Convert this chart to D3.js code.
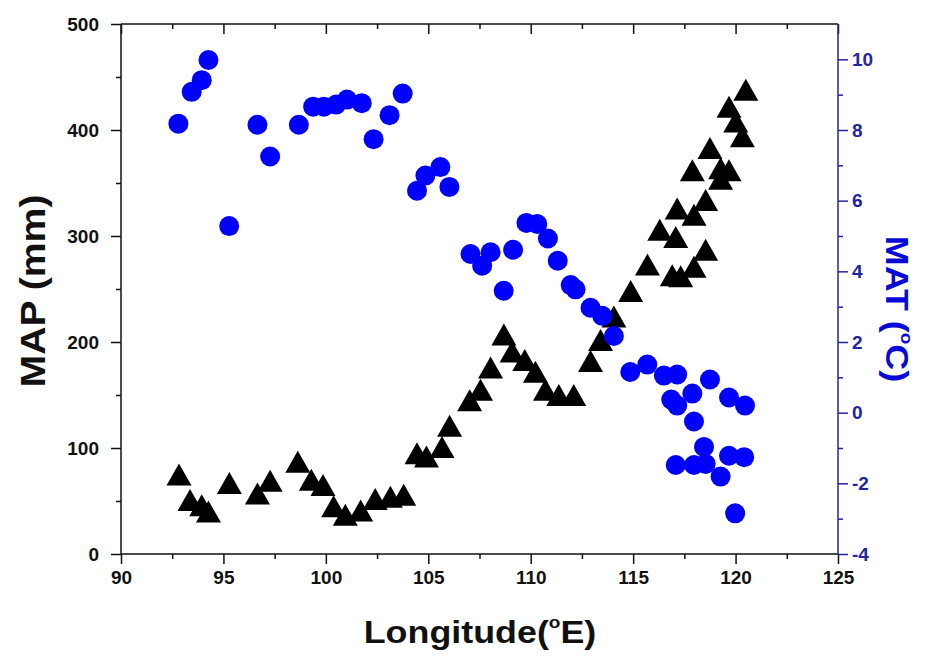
<!DOCTYPE html>
<html><head><meta charset="utf-8">
<script src="https://cdn.jsdelivr.net/npm/d3@7"></script>
<style>
body{margin:0;background:#fff;}
svg{display:block;}
text{font-family:"Liberation Sans",Arial,sans-serif;font-weight:bold;}
</style></head>
<body>
<svg id="chart" width="928" height="657"></svg>
<script>
// MAP (mm) vs longitude — black triangles
const mapLon = [92.83,93.37,93.94,94.27,95.29,96.66,97.28,98.63,99.29,99.86,100.38,100.95,101.7,102.41,103.15,103.8,104.45,104.91,105.67,106.04,107.02,107.55,108.04,108.69,109.09,109.71,110.23,110.72,111.37,112.1,112.92,113.41,114.06,114.88,115.7,116.3,117.08,116.91,117.32,117.15,117.97,117.97,117.89,118.54,118.54,118.75,119.27,119.27,119.68,119.68,120.01,120.33,120.5];
const mapVal = [75,51,46,40,67,57,69,87,70,65,45,37,41,52,54,56,95,92,101,121,145,155,176,207,191,183,172,155,150,150,182,202,224,248,273,306,299,263,262,326,320,271,362,334,287,383,364,354,362,422,408,394,438];
// MAT (°C) vs longitude — blue circles
const matLon = [92.8,93.45,93.94,94.27,95.28,96.66,97.28,98.68,99.38,99.9,100.5,101.03,101.75,102.33,103.11,103.75,104.45,104.86,105.59,106.03,107.06,107.63,108.04,108.68,109.14,109.79,110.32,110.84,111.32,111.95,112.19,112.92,113.49,114.06,114.86,115.69,116.5,117.15,116.86,117.15,117.89,117.97,118.75,119.68,120.46,118.46,117.08,117.97,118.54,119.27,119.68,120.42,119.98];
const matVal = [8.18,9.08,9.41,9.98,5.28,8.15,7.25,8.15,8.66,8.66,8.72,8.86,8.76,7.74,8.42,9.03,6.28,6.71,6.95,6.39,4.49,4.16,4.54,3.45,4.61,5.37,5.34,4.93,4.3,3.61,3.49,2.97,2.74,2.17,1.15,1.36,1.05,1.08,0.37,0.2,0.54,-0.25,0.94,0.43,0.2,-0.97,-1.48,-1.48,-1.45,-1.81,-1.22,-1.26,-2.85];
// tick labels
const xTicks = [90,95,100,105,110,115,120,125];
const yLeftTicks = [0,100,200,300,400,500];
const yRightTicks = [-4,-2,0,2,4,6,8,10];

const svg = d3.select("#chart");
const L=121, R=838, T=24, B=554;
const x = d3.scaleLinear().domain([90,125]).range([L,R]);
const yL = d3.scaleLinear().domain([0,500]).range([B,T]);
const yR = d3.scaleLinear().domain([-4,11]).range([B,T]);
const fmt = d => String(d);

const axisColor="#111", rightColor="#24249e";
function style(g,color,fs){
  g.select(".domain").remove();
  g.selectAll("line").attr("stroke",color).attr("stroke-width",1.5);
  g.selectAll("text").attr("fill",color).style("font-size",fs+"px");
}
// minor ticks
const xMinor = d3.range(92.5,125,5);
const yLMinor = d3.range(50,500,100);
const yRMinor = d3.range(-3,11,2);

svg.append("g").attr("transform",`translate(0,${B})`)
  .call(d3.axisBottom(x).tickValues(xMinor).tickSize(5).tickFormat(""))
  .call(g=>style(g,axisColor,18));
svg.append("g").attr("transform",`translate(0,${B})`)
  .call(d3.axisBottom(x).tickValues(xTicks).tickSize(10).tickPadding(7).tickFormat(fmt))
  .call(g=>style(g,axisColor,19));
svg.append("g").attr("transform",`translate(0,${T})`)
  .call(d3.axisBottom(x).tickValues(xMinor).tickSize(5).tickFormat(""))
  .call(g=>style(g,axisColor,18));
svg.append("g").attr("transform",`translate(0,${T})`)
  .call(d3.axisBottom(x).tickValues(xTicks).tickSize(10).tickFormat(""))
  .call(g=>style(g,axisColor,18));

svg.append("g").attr("transform",`translate(${L},0)`)
  .call(d3.axisLeft(yL).tickValues(yLMinor).tickSize(5).tickFormat(""))
  .call(g=>style(g,axisColor,18));
svg.append("g").attr("transform",`translate(${L},0)`)
  .call(d3.axisLeft(yL).tickValues(yLeftTicks).tickSize(10).tickPadding(12).tickFormat(fmt))
  .call(g=>style(g,axisColor,19));

svg.append("g").attr("transform",`translate(${R},0)`)
  .call(d3.axisRight(yR).tickValues(yRMinor).tickSize(5).tickFormat(""))
  .call(g=>style(g,rightColor,18));
svg.append("g").attr("transform",`translate(${R},0)`)
  .call(d3.axisRight(yR).tickValues(yRightTicks).tickSize(10).tickPadding(4).tickFormat(fmt))
  .call(g=>style(g,rightColor,19));

// frame lines
svg.append("line").attr("x1",L).attr("x2",R).attr("y1",B).attr("y2",B).attr("stroke",axisColor).attr("stroke-width",1.5);
svg.append("line").attr("x1",L).attr("x2",R).attr("y1",T).attr("y2",T).attr("stroke",axisColor).attr("stroke-width",1.5);
svg.append("line").attr("x1",L).attr("x2",L).attr("y1",T).attr("y2",B).attr("stroke",axisColor).attr("stroke-width",1.5);
svg.append("line").attr("x1",R).attr("x2",R).attr("y1",T).attr("y2",B).attr("stroke",rightColor).attr("stroke-width",1.5);

// marks
const mapData = mapLon.map((d,i)=>({x:d,y:mapVal[i]}));
const matData = matLon.map((d,i)=>({x:d,y:matVal[i]}));
svg.append("g").selectAll("path").data(mapData).join("path")
  .attr("d","M0,-11L12.5,11L-12.5,11Z")
  .attr("transform",d=>`translate(${x(d.x)},${yL(d.y)})`)
  .attr("fill","#000");
svg.append("g").selectAll("circle").data(matData).join("circle")
  .attr("cx",d=>x(d.x)).attr("cy",d=>yR(d.y)).attr("r",10)
  .attr("fill","#0000ff");

// titles
const xt = svg.append("text").attr("text-anchor","middle")
  .attr("transform","translate(480,643) scale(1.12,1)").style("font-size","32px").attr("fill","#111");
xt.append("tspan").text("Longitude(");
xt.append("tspan").text("o").style("font-size","17px").attr("dy",-15);
xt.append("tspan").text("E)").attr("dy",15);

svg.append("text").attr("text-anchor","middle")
  .attr("transform","translate(45,291) rotate(-90) scale(1.12,1)")
  .style("font-size","35px").attr("fill","#111").text("MAP (mm)");

const rt = svg.append("text").attr("text-anchor","middle")
  .attr("transform","translate(886,309) rotate(90) scale(1.12,1)")
  .style("font-size","32px").attr("fill","#0a0ad8");
rt.append("tspan").text("MAT (");
rt.append("tspan").text("o").style("font-size","17px").attr("dy",-15);
rt.append("tspan").text("C)").attr("dy",15);
</script>
</body></html>
